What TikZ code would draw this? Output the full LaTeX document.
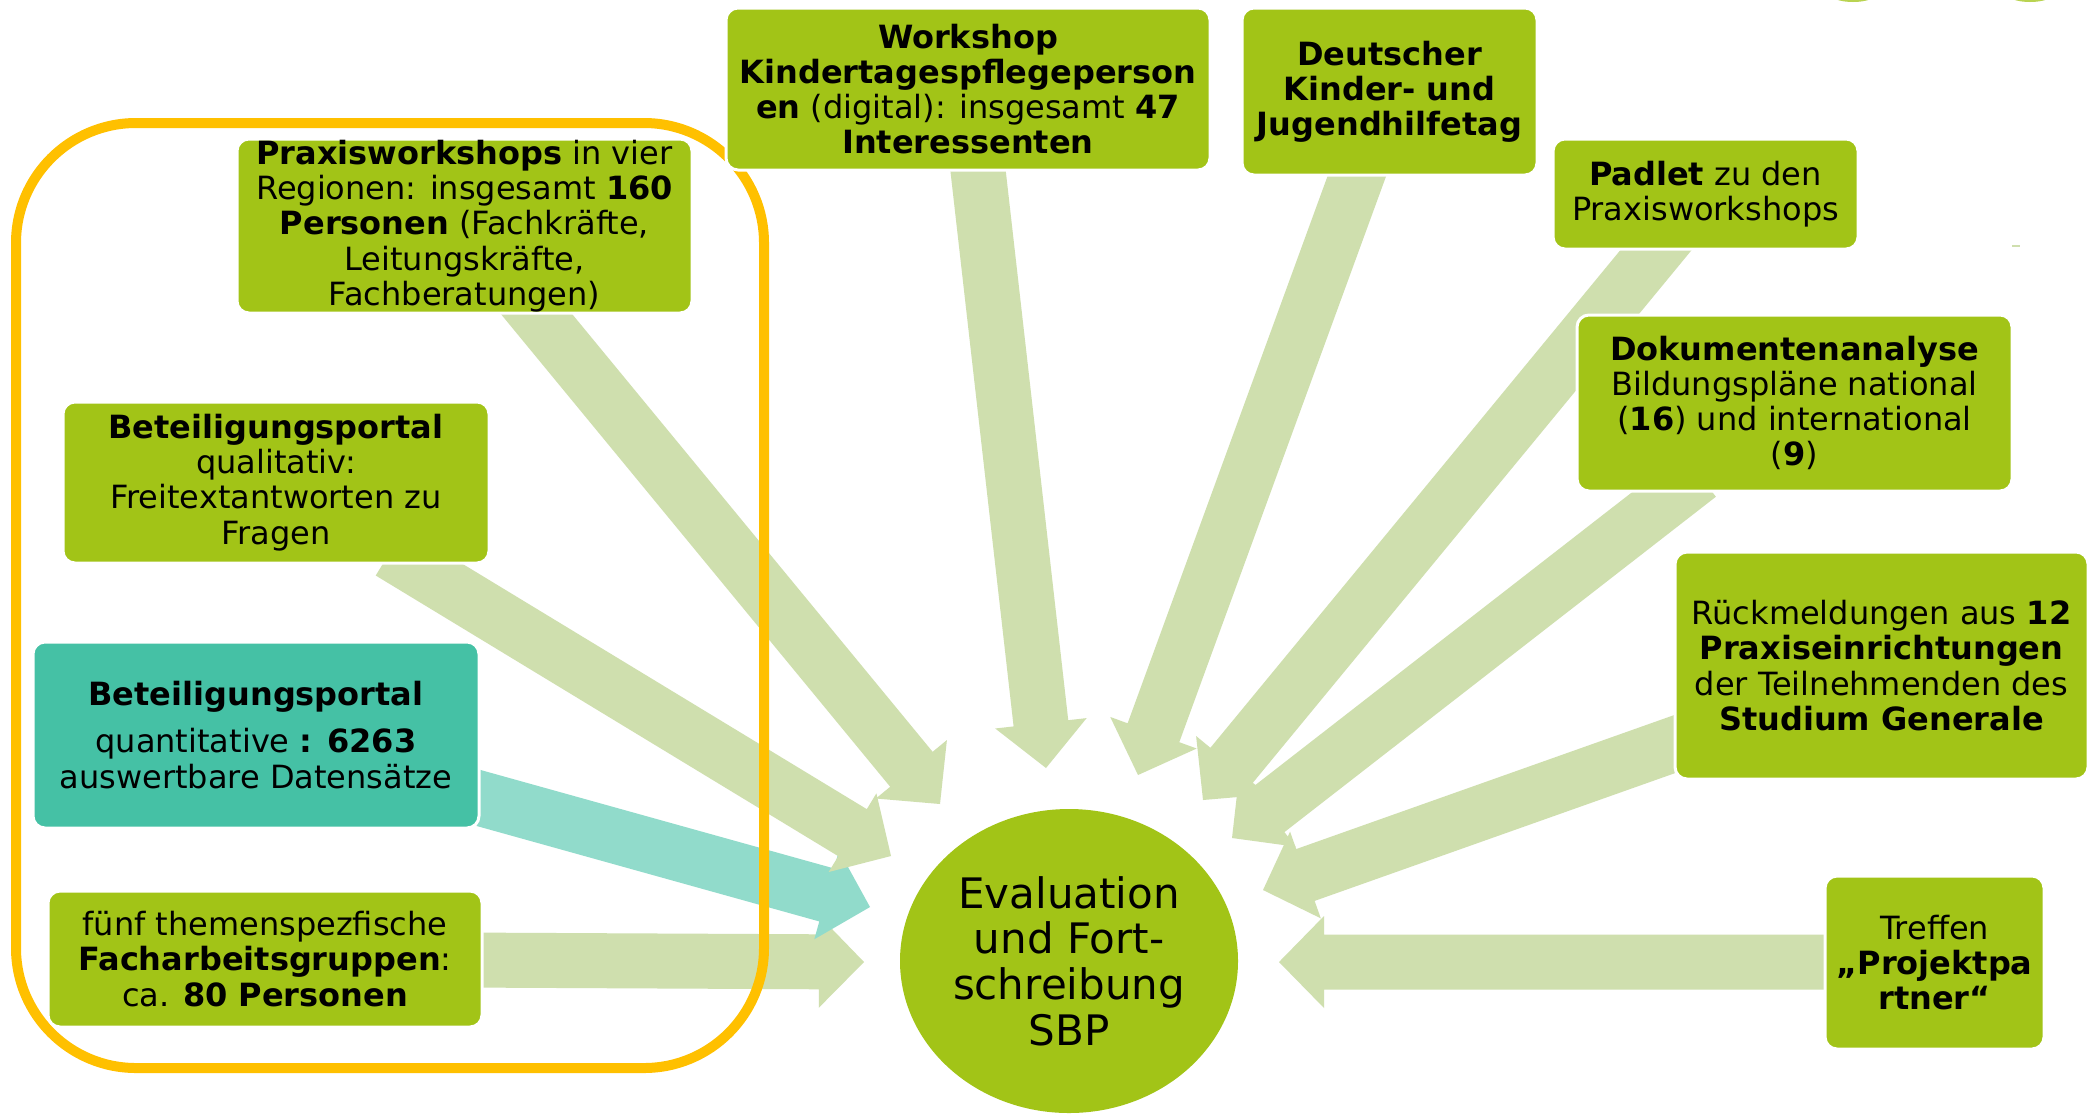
\documentclass[tikz,border=0pt]{standalone}
\usepackage{fontspec}
\setmainfont{DejaVu Sans}
\usetikzlibrary{calc,shapes.geometric}
\definecolor{boxgreen}{RGB}{162,196,23}
\definecolor{arrgreen}{RGB}{207,223,174}
\definecolor{tealbox}{RGB}{69,193,165}
\definecolor{tealarr}{RGB}{145,219,203}
\definecolor{frameorange}{RGB}{255,192,0}
\newcommand{\blockarrow}[3]{%
  \coordinate (ba-base) at ($(#3)!22.5pt!(#2)$);
  \fill[#1] ($(#2)!13.75pt!90:(#3)$) -- ($(ba-base)!13.75pt!90:(#3)$)
    -- ($(ba-base)!23pt!90:(#3)$) -- (#3) -- ($(ba-base)!23pt!-90:(#3)$)
    -- ($(ba-base)!13.75pt!-90:(#3)$) -- ($(#2)!13.75pt!-90:(#3)$) -- cycle;
}
\tikzset{
  gbox/.style={fill=boxgreen, draw=white, line width=1.5pt, rounded corners=6pt,
    align=center, inner sep=0pt, font=\fontsize{16}{17.6}\selectfont},
  tbox/.style={gbox, fill=tealbox},
  hub/.style={ellipse, fill=boxgreen, inner sep=0pt, align=center,
    font=\fontsize{21}{22.8}\selectfont},
  frame/.style={draw=frameorange, line width=5pt, rounded corners=60pt}
}
\begin{document}
\begin{tikzpicture}[x=0.5pt,y=-0.5pt]
\useasboundingbox[fill=white] (0,0) rectangle (2096,1115);
% small fragments at the top right
\fill[boxgreen!75] (1853,-6) ellipse [x radius=23, y radius=8];
\fill[boxgreen!75] (2030,-6) ellipse [x radius=23, y radius=8];
\fill[arrgreen] (2012,245) rectangle (2020,247);

% start / tip coordinates
\coordinate (s-fuenf) at (460,960);   \coordinate (t-fuenf) at (864,962);
\coordinate (s-teal) at (450,790);    \coordinate (t-teal) at (870,907);
\coordinate (s-qual) at (390,552);    \coordinate (t-qual) at (891,856);
\coordinate (s-praxis) at (520,294);  \coordinate (t-praxis) at (940,804);
\coordinate (s-work) at (975,144);    \coordinate (t-work) at (1046,768);
\coordinate (s-deut) at (1366,151);   \coordinate (t-deut) at (1138,775);
\coordinate (s-padlet) at (1675,227); \coordinate (t-padlet) at (1203,800);
\coordinate (s-doku) at (1699,475);   \coordinate (t-doku) at (1232,838);
\coordinate (s-rueck) at (1703,734);  \coordinate (t-rueck) at (1263,890);
\coordinate (s-treff) at (1850,962);  \coordinate (t-treff) at (1279,962);

% arrows
\blockarrow{arrgreen}{s-fuenf}{t-fuenf}
\blockarrow{tealarr}{s-teal}{t-teal}
\blockarrow{arrgreen}{s-qual}{t-qual}
\blockarrow{arrgreen}{s-praxis}{t-praxis}
\blockarrow{arrgreen}{s-work}{t-work}
\blockarrow{arrgreen}{s-deut}{t-deut}
\blockarrow{arrgreen}{s-padlet}{t-padlet}
\blockarrow{arrgreen}{s-doku}{t-doku}
\blockarrow{arrgreen}{s-rueck}{t-rueck}
\blockarrow{arrgreen}{s-treff}{t-treff}

% orange frame
\draw[frame] (16,123) rectangle (764,1068);

% boxes
\node[gbox, minimum width=242pt, minimum height=81pt] (work) at (968,89)
  {\textbf{Workshop}\\ \textbf{Kindertagespflegeperson}\\ \textbf{en} (digital): insgesamt \textbf{47}\\ \textbf{Interessenten}};
\node[gbox, minimum width=147.5pt, minimum height=83.5pt] (deut) at (1389.5,91.5)
  {\textbf{Deutscher}\\ \textbf{Kinder- und}\\ \textbf{Jugendhilfetag}};
\node[gbox, minimum width=152.5pt, minimum height=55pt] (padlet) at (1705.5,194)
  {\textbf{Padlet} zu den\\ Praxisworkshops};
\node[gbox, minimum width=217.5pt, minimum height=88pt] (doku) at (1794.5,403)
  {\textbf{Dokumentenanalyse}\\ Bildungspläne national\\ (\textbf{16}) und international\\ (\textbf{9})};
\node[gbox, minimum width=206.5pt, minimum height=113.5pt] (rueck) at (1881.5,665.5)
  {Rückmeldungen aus \textbf{12}\\ \textbf{Praxiseinrichtungen}\\ der Teilnehmenden des\\ \textbf{Studium Generale}};
\node[gbox, minimum width=109.5pt, minimum height=86.5pt] (treff) at (1934.5,962.5)
  {Treffen\\ \textbf{„Projektpa}\\ \textbf{rtner“}};
\node[gbox, minimum width=227.5pt, minimum height=87pt] (praxis) at (464.5,226)
  {\textbf{Praxisworkshops} in vier\\ Regionen: insgesamt \textbf{160}\\ \textbf{Personen} (Fachkräfte,\\ Leitungskräfte,\\ Fachberatungen)};
\node[gbox, minimum width=213pt, minimum height=80.5pt] (qual) at (276,482.5)
  {\textbf{Beteiligungsportal}\\ qualitativ:\\ Freitextantworten zu\\ Fragen};
\node[tbox, minimum width=223pt, minimum height=93pt] (teal) at (256,735)
  {\textbf{Beteiligungsportal}\\[6pt] quantitative \textbf{: 6263}\\ auswertbare Datensätze};
\node[gbox, minimum width=217pt, minimum height=68pt] (fuenf) at (265,959)
  {fünf themenspezfische\\ \textbf{Facharbeitsgruppen}:\\ ca. \textbf{80 Personen}};

% hub
\node[hub, minimum width=169pt, minimum height=152pt] (hub) at (1069,961)
  {Evaluation\\ und Fort-\\ schreibung\\ SBP};
\end{tikzpicture}
\end{document}
